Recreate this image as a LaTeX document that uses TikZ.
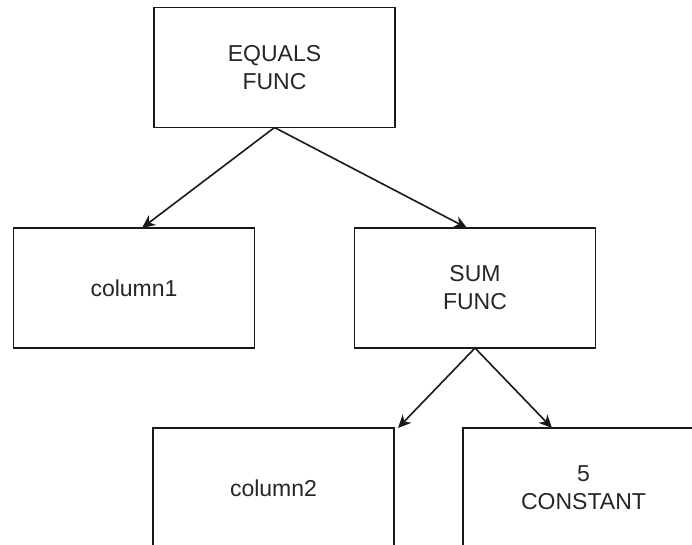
\documentclass[tikz,border=0pt]{standalone}
\usepackage{fontspec}
\setmainfont{Liberation Sans}
\usetikzlibrary{arrows.meta}
\begin{document}
\begin{tikzpicture}[x=1pt,y=-1pt,
  box/.style={draw=black!90, line width=1.6pt, fill=white,
    minimum width=241pt, minimum height=120pt, inner sep=0pt, outer sep=0pt,
    align=center, text=black!85, font=\fontsize{23}{28}\selectfont},
  link/.style={draw=black!90, line width=1.6pt,
    -{Stealth[length=13pt,width=12pt,inset=4pt]}}]
  \useasboundingbox (0,0) rectangle (692,545);
  \clip (0,0) rectangle (692,545);
  \node[box] (eq)  at (274.5,67.5)  {EQUALS\\FUNC};
  \node[box] (c1)  at (134,288)     {column1};
  \node[box] (sum) at (475,288)     {SUM\\FUNC};
  \node[box] (c2)  at (273.5,488)   {column2};
  \node[box] (k)   at (583.5,488)   {5\\CONSTANT};
  \draw[link] (eq.south)  -- ([xshift=8pt]c1.north);
  \draw[link] (eq.south)  -- ([xshift=-8pt]sum.north);
  \draw[link] (sum.south) -- ([xshift=4pt]c2.north east);
  \draw[link] (sum.south) -- ([xshift=89pt]k.north west);
\end{tikzpicture}
\end{document}
